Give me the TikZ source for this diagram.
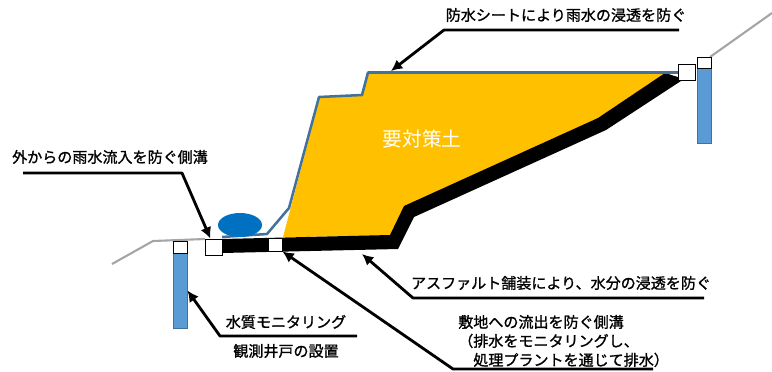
\documentclass[tikz,border=0pt]{standalone}
\usepackage{fontspec}
\newfontfamily\jp{Noto Sans CJK JP}
\newfontfamily\jpb{Noto Sans CJK JP}[FakeBold=1.2]
\usetikzlibrary{positioning,arrows.meta}
\definecolor{soilyellow}{RGB}{255,192,0}
\definecolor{sheetblue}{RGB}{65,113,156}
\definecolor{wellblue}{RGB}{91,155,213}
\definecolor{pondblue}{RGB}{0,112,192}
\definecolor{groundgray}{RGB}{165,165,165}

\begin{document}
\begin{tikzpicture}[x=0.25mm, y=-0.25mm,
	font=\jpb\fontsize{10.7}{13.5}\selectfont,
	box/.style={rectangle, draw, fill=white, line width=0.7pt, inner sep=0pt},
	well/.style={rectangle, draw=sheetblue, fill=wellblue, line width=0.7pt, inner sep=0pt, minimum width=3.5mm, minimum height=18.75mm},
	callout/.style={line width=2pt, line join=round, -{Latex[length=2.8mm, width=2.8mm]}},
	lbl/.style={inner sep=0pt}]
	\useasboundingbox (0,0) rectangle (772,371);

	% ground on both sides
	\draw[groundgray, line width=1.5pt] (112,264) -- (153,241) -- (205,239);
	\draw[groundgray, line width=1.5pt] (710,57) -- (772,13);

	% soil, asphalt and sheet
	\fill[soilyellow] (368,73) -- (672,73) -- (598,120) -- (404,208) -- (390,236) -- (283,237) -- (320,97) -- (362,95) -- cycle;
	\fill[black] (222,239) -- (390,235) -- (404,206) -- (598,118) -- (665,73) -- (684,79) -- (606,130) -- (414,217) -- (398,249) -- (222,253) -- cycle;
	\draw[sheetblue, line width=1.8pt, line join=round] (679,72.5) -- (368,72.5) -- (362,95) -- (319,97) -- (289,208) -- (267,234) -- (222,237);
	\fill[pondblue] (240,225) ellipse [x radius=22, y radius=12];

	\node[white, font=\jp\fontsize{14}{16}\selectfont] (S) at (422,139) {要対策土};

	% wells, caps and side ditches
	\node[well] (W1) at (180,290.5) {};
	\node[well] (W2) at (704,105.5) {};
	\node[box, minimum width=3.5mm, minimum height=3mm] (C1) at (180,247) {};
	\node[box, minimum width=3.5mm, minimum height=2.75mm] (C2) at (704,62.5) {};
	\node[box, minimum width=4.25mm, minimum height=4mm] (D1) at (213.5,247) {};
	\node[box, minimum width=3.5mm, minimum height=3.25mm] (D2) at (275,244.5) {};
	\node[box, minimum width=4.25mm, minimum height=4mm] (D3) at (686.5,72) {};

	\coordinate (sheet) at (391,71);
	\coordinate (asph) at (362,254);

	% labels
	\node[lbl] (T1) at (566,15) {防水シートにより雨水の浸透を防ぐ};
	\node[lbl] (T2) at (110,157) {外からの雨水流入を防ぐ側溝};
	\node[lbl] (T3) at (286,322) {水質モニタリング};
	\node[lbl] (T3b) at (286,351) {観測井戸の設置};
	\node[lbl] (T4) at (561,283) {アスファルト舗装により、水分の浸透を防ぐ};
	\node[lbl, align=left, anchor=west] (T5) at (458,341) {敷地への流出を防ぐ側溝\\（排水をモニタリングし、\\　処理プラントを通じて排水）};

	\coordinate (u1) at (679,30);  \coordinate (k1) at (444,30);
	\coordinate (u2) at (23,173);  \coordinate (k2) at (182,173);
	\coordinate (u3) at (357,336); \coordinate (k3) at (220,336);
	\coordinate (u4) at (704,298); \coordinate (k4) at (413,298);
	\coordinate (u5) at (653,369); \coordinate (k5) at (453,369);

	\draw[callout] (u1) -- (k1) -- (sheet);
	\draw[callout] (u2) -- (k2) -- (D1.110);
	\draw[callout] (u3) -- (k3) -- (W1.east);
	\draw[callout] (u4) -- (k4) -- (asph);
	\draw[callout] (u5) -- (k5) -- (D2.south east);

\end{tikzpicture}
\end{document}
